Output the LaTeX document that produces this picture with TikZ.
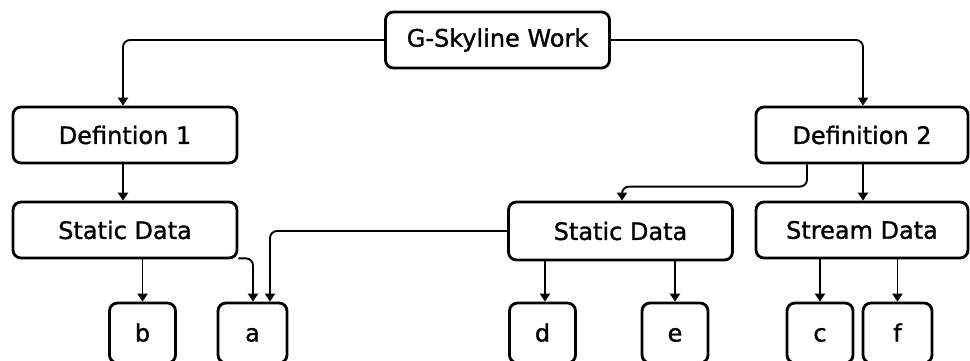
\documentclass[tikz,border=0pt]{standalone}
\usepackage{fontspec}
\setmainfont{DejaVu Sans}
\newfontfamily\boxfont{DejaVu Sans}[FakeBold=1.2]
\usetikzlibrary{arrows.meta}

\begin{document}
\begin{tikzpicture}[x=1pt,y=-1pt,
    box/.style={draw, line width=2.8pt, rounded corners=8pt, minimum width=224pt, minimum height=56pt, inner sep=0pt, font=\boxfont\fontsize{24}{28}\selectfont},
    leaf/.style={box, minimum width=66pt, minimum height=60pt, text height=17pt, text depth=0pt},
    conn/.style={line width=1.9pt, rounded corners=7pt, -{Triangle[width=10pt,length=8pt]}}]

  \clip (0,0) rectangle (970,361);

  % Top
  \node[box] (work) at (497.5,40) {G-Skyline Work};

  % Definitions
  \node[box] (def1) at (125,135) {Defintion 1};
  \node[box, minimum width=212pt] (def2) at (862,135) {Definition 2};

  % Data kinds
  \node[box] (sdl) at (125,230) {Static Data};
  \node[box, minimum height=58pt] (sdm) at (620.5,231) {Static Data};
  \node[box, minimum width=212pt] (stream) at (862,230) {Stream Data};

  % Leaves
  \node[leaf] (b) at (142.5,333) {b};
  \node[leaf, minimum width=69pt] (a) at (252.5,333) {a};
  \node[leaf] (d) at (542.5,333) {d};
  \node[leaf] (e) at (675,333) {e};
  \node[leaf] (c) at (820,333) {c};
  \node[leaf, minimum width=69pt] (f) at (897.5,333) {f};

  % Connectors
  \draw[conn] (work.west) -| ([xshift=-2pt]def1.north);
  \draw[conn] (work.east) -| ([xshift=1pt]def2.north);
  \draw[conn] ([xshift=-2pt]def1.south) -- ([xshift=-2pt]sdl.north);
  \draw[conn] ([xshift=-55pt]def2.south) |- ([xshift=1.5pt,yshift=14pt]sdm.north) -- ([xshift=1.5pt]sdm.north);
  \draw[conn] ([xshift=1pt]def2.south) -- ([xshift=1pt]stream.north);

  \draw[conn] (b.north |- sdl.south) -- (b.north);
  \draw[conn] ([yshift=1pt]sdl.south east) -| ([xshift=0.5pt]a.north);
  \draw[conn] (sdm.west) -| ([xshift=17.5pt]a.north);

  \draw[conn] ([xshift=2.5pt]d.north |- sdm.south) -- ([xshift=2.5pt]d.north);
  \draw[conn] (e.north |- sdm.south) -- (e.north);
  \draw[conn] (c.north |- stream.south) -- (c.north);
  \draw[conn] (f.north |- stream.south) -- (f.north);

\end{tikzpicture}
\end{document}
